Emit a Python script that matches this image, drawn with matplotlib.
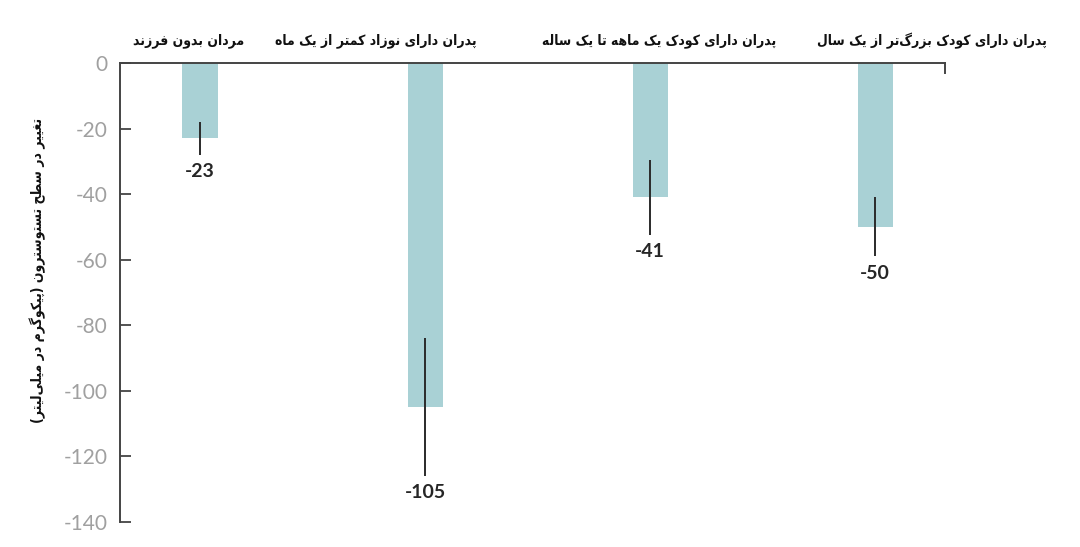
import matplotlib
matplotlib.use("Agg")
import matplotlib.pyplot as plt
import numpy as np

# data
groups = ["مردان بدون فرزند",
          "پدران دارای نوزاد کمتر از یک ماه",
          "پدران دارای کودک یک ماهه تا یک ساله",
          "پدران دارای کودک بزرگ\u200cتر از یک سال"]
change = [-23, -105, -41, -50]
err = [5, 21, 11.5, 9]
ylabel = "تغییر در سطح تستوسترون (پیکوگرم در میلی\u200cلیتر)"
yticks = [0, -20, -40, -60, -80, -100, -120, -140]

# crude arabic/persian shaping, matplotlib has no text shaping of its own
FORMS = {
    'ا': (0xFE8D, 0xFE8E),
    'ب': (0xFE8F, 0xFE90, 0xFE91, 0xFE92),
    'پ': (0xFB56, 0xFB57, 0xFB58, 0xFB59),
    'ت': (0xFE95, 0xFE96, 0xFE97, 0xFE98),
    'ح': (0xFEA1, 0xFEA2, 0xFEA3, 0xFEA4),
    'د': (0xFEA9, 0xFEAA),
    'ر': (0xFEAD, 0xFEAE),
    'ز': (0xFEAF, 0xFEB0),
    'س': (0xFEB1, 0xFEB2, 0xFEB3, 0xFEB4),
    'ط': (0xFEC1, 0xFEC2, 0xFEC3, 0xFEC4),
    'غ': (0xFECD, 0xFECE, 0xFECF, 0xFED0),
    'ف': (0xFED1, 0xFED2, 0xFED3, 0xFED4),
    'ل': (0xFEDD, 0xFEDE, 0xFEDF, 0xFEE0),
    'م': (0xFEE1, 0xFEE2, 0xFEE3, 0xFEE4),
    'ن': (0xFEE5, 0xFEE6, 0xFEE7, 0xFEE8),
    'ه': (0xFEE9, 0xFEEA, 0xFEEB, 0xFEEC),
    'و': (0xFEED, 0xFEEE),
    'ی': (0xFBFC, 0xFBFD, 0xFBFE, 0xFBFF),
    'ک': (0xFB8E, 0xFB8F, 0xFB90, 0xFB91),
    'گ': (0xFB92, 0xFB93, 0xFB94, 0xFB95),
}


def fa(s):
    s = s.replace('ي', 'ی').replace('ك', 'ک')
    out = []
    for i, ch in enumerate(s):
        if ch not in FORMS:
            out.append(ch)
            continue
        f = FORMS[ch]
        prev = s[i - 1] if i > 0 else ''
        nxt = s[i + 1] if i + 1 < len(s) else ''
        jp = prev in FORMS and len(FORMS[prev]) == 4
        jn = len(f) == 4 and nxt in FORMS
        if jp and jn:
            c = f[3]
        elif jp:
            c = f[1]
        elif jn:
            c = f[2]
        else:
            c = f[0]
        out.append(chr(c))
    vis = ''.join(out).replace('\u200c', '')[::-1]
    return vis.translate(str.maketrans('()', ')('))


fa_font = dict(family=['DejaVu Sans'], fontweight='bold', fontstretch='condensed')
num_font = ['Lato', 'DejaVu Sans']

fig = plt.figure(figsize=(10.8, 5.47), dpi=100)
ax = fig.add_axes([0.111, 0.0457, 0.764, 0.8391])

x = np.arange(len(change))
ax.bar(x, change, width=0.156, color='#a9d1d5', zorder=1)
ax.errorbar(x, change, yerr=err, fmt='none', ecolor='#2a2a2a',
            elinewidth=1.4, capsize=0, zorder=2)

for xi, v, e in zip(x, change, err):
    ax.annotate(str(v), xy=(xi, v - e), xytext=(0, -6), textcoords='offset points',
                ha='center', va='top', fontsize=14, color='#262626',
                family=num_font, fontweight='bold')

# label spots above the top line (the picture does not centre them on the bars)
label_x = [-0.05, 0.78, 2.04, 3.25]
for lx, g in zip(label_x, groups):
    ax.annotate(fa(g), xy=(lx, 1), xycoords=('data', 'axes fraction'),
                xytext=(0, 16), textcoords='offset points',
                ha='center', va='center', fontsize=10, color='#111111', **fa_font)

ax.set_xlim(-0.356, 3.31)
ax.set_ylim(-140, 0)
ax.set_xticks([])
ax.set_yticks(yticks)
ax.set_yticklabels([str(t) for t in yticks], family=num_font, fontsize=15,
                   color='#a0a0a0')
ax.tick_params(axis='y', direction='in', length=8, width=1.3, color='#444444', pad=9)

for side in ['left', 'top', 'right']:
    ax.spines[side].set_color('#444444')
    ax.spines[side].set_linewidth(1.4)
ax.spines['bottom'].set_visible(False)
ax.spines['right'].set_bounds(-3, 0)

fig.text(0.035, 0.505, fa(ylabel), rotation=90, ha='center', va='center',
         fontsize=10, color='#111111', **fa_font)

fig.savefig('out.png', dpi=100)
